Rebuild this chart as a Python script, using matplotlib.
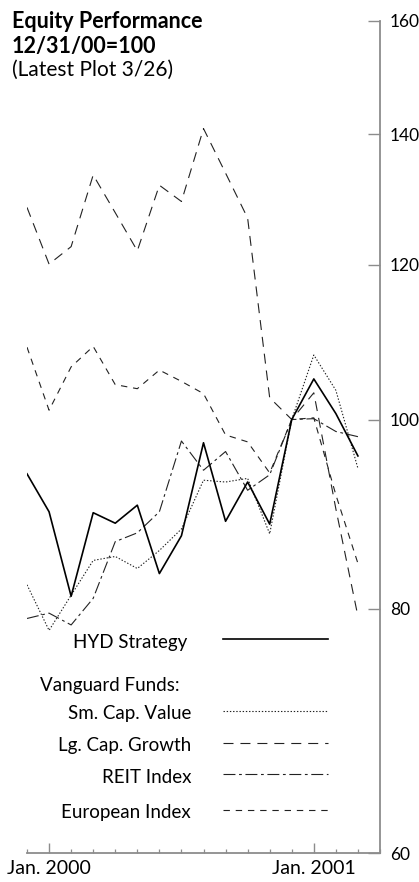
import numpy as np
import matplotlib
matplotlib.use('Agg')
import matplotlib.pyplot as plt
from matplotlib.lines import Line2D
from matplotlib.ticker import NullLocator, FixedLocator, FixedFormatter

plt.rcParams['font.family'] = ['Lato', 'DejaVu Sans']
plt.rcParams['lines.scale_dashes'] = False

# month index: 0 = Dec 1999 ... 15 = Mar 2001
hyd = [93.8, 89.7, 81.2, 89.6, 88.5, 90.4, 83.4, 87.2, 97.3, 88.7, 92.9, 88.4, 100.0, 104.9, 100.7, 95.8]
sm_cap = [82.3, 78.0, 81.3, 84.7, 85.1, 83.9, 85.7, 87.9, 93.1, 92.9, 93.3, 87.4, 100.0, 107.9, 103.5, 94.4]
lg_cap = [128.4, 120.1, 122.6, 133.4, 127.6, 122.0, 131.8, 129.3, 140.9, 133.7, 126.8, 102.6, 100.0, 103.2, 90.0, 79.3]
reit = [79.1, 79.6, 78.5, 81.0, 86.6, 87.5, 89.7, 97.5, 94.2, 96.3, 92.0, 93.7, 100.0, 100.1, 98.6, 98.0]
europe = [108.9, 101.1, 106.4, 109.0, 104.2, 103.7, 106.0, 104.6, 103.1, 98.2, 97.4, 93.9, 100.0, 100.2, 91.5, 84.4]

y_ticks = [60, 80, 100, 120, 140, 160]
x_major = [1, 13]
x_labels = ['Jan. 2000', 'Jan. 2001']

W, H = 419, 882
fig = plt.figure(figsize=(W / 100, H / 100), dpi=100)
ax = fig.add_axes([27 / W, 29 / H, 353 / W, 832.3 / H])

axis_col = '#8c8c8c'
styles = {
    'hyd': dict(color='black', lw=1.2, ls='-'),
    'sm': dict(color='#222222', lw=0.8, ls=(0, (1.0, 1.3))),
    'lg': dict(color='#222222', lw=0.8, ls=(0, (7.2, 5.0))),
    'reit': dict(color='#222222', lw=0.8, ls=(0, (8.6, 2.6, 2.0, 2.6))),
    'eur': dict(color='#222222', lw=0.8, ls=(0, (4.6, 4.2))),
}

x = np.arange(len(hyd))
ax.plot(x, europe, **styles['eur'])
ax.plot(x, lg_cap, **styles['lg'])
ax.plot(x, reit, **styles['reit'])
ax.plot(x, sm_cap, **styles['sm'])
ax.plot(x, hyd, **styles['hyd'])

ax.set_yscale('log')
ax.set_ylim(60, 160)
ax.set_xlim(0, 16)
ax.yaxis.set_major_locator(FixedLocator(y_ticks))
ax.yaxis.set_major_formatter(FixedFormatter([str(v) for v in y_ticks]))
ax.yaxis.set_minor_locator(NullLocator())
ax.yaxis.tick_right()
ax.xaxis.set_major_locator(FixedLocator(x_major))
ax.xaxis.set_major_formatter(FixedFormatter(x_labels))
ax.xaxis.set_minor_locator(FixedLocator(list(range(0, 17))))

for s in ['top', 'left']:
    ax.spines[s].set_visible(False)
for s in ['bottom', 'right']:
    ax.spines[s].set_color(axis_col)
    ax.spines[s].set_linewidth(1.3)

ax.tick_params(axis='y', which='major', direction='in', length=8.5, width=1.0,
               color=axis_col, labelsize=12.5, pad=7, right=True, left=False)
ax.tick_params(axis='x', which='major', direction='in', length=7, width=1.0,
               color=axis_col, labelsize=14, pad=5)
ax.tick_params(axis='x', which='minor', direction='in', length=3, width=0.9,
               color=axis_col)


def fy(p):
    return 1 - p / H


def fx(p):
    return p / W


fig.text(fx(12), fy(28), 'Equity Performance', fontsize=15.5, fontweight='bold', va='baseline')
fig.text(fx(12), fy(53), '12/31/00=100', fontsize=15.5, fontweight='bold', va='baseline')
fig.text(fx(12), fy(76), '(Latest Plot 3/26)', fontsize=15, va='baseline')

legend_rows = [
    ('HYD Strategy', 'hyd', 648, 639, 187),
    ('Sm. Cap. Value', 'sm', 719, 711, 191),
    ('Lg. Cap. Growth', 'lg', 751, 743, 191),
    ('REIT Index', 'reit', 783, 774, 191),
    ('European Index', 'eur', 818, 810, 191),
]
for label, key, ty, ly, rx in legend_rows:
    fig.text(fx(rx), fy(ty), label, fontsize=13.5, ha='right', va='baseline')
    fig.add_artist(Line2D([fx(223), fx(328)], [fy(ly), fy(ly)], transform=fig.transFigure, **styles[key]))
fig.text(fx(40), fy(691), 'Vanguard Funds:', fontsize=13.5, va='baseline')

fig.savefig('out.png', dpi=100)
